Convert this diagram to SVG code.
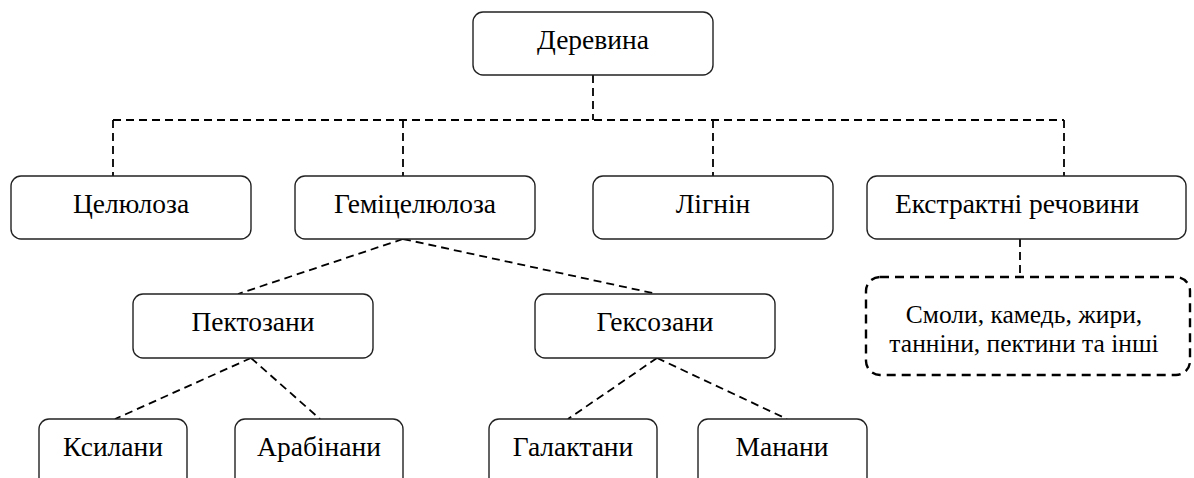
<svg xmlns="http://www.w3.org/2000/svg" width="1194" height="478" viewBox="0 0 1194 478">
<style>
.box{fill:#fff;stroke:#222;stroke-width:1.4}
.dbox{fill:#fff;stroke:#000;stroke-width:2.4;stroke-dasharray:9 6}
.c{fill:none;stroke:#000;stroke-width:1.8;stroke-dasharray:8 5}
.t{font-family:'Liberation Serif','Times New Roman',serif;font-size:27.5px;fill:#000;text-anchor:middle}
.s{font-size:25.5px}
</style>
<rect width="1194" height="478" fill="#fff"/>
<g id="connectors">
<path class="c" d="M593,75 V120"/>
<path class="c" d="M113,120 H1064"/>
<path class="c" d="M113,120 V176"/>
<path class="c" d="M403,120 V176"/>
<path class="c" d="M713,120 V176"/>
<path class="c" d="M1064,120 V176"/>
<path class="c" d="M403,239 L238,294"/>
<path class="c" d="M403,239 L657,294"/>
<path class="c" d="M251,358 L115,419"/>
<path class="c" d="M251,358 L320,419"/>
<path class="c" d="M657,358 L568,419"/>
<path class="c" d="M657,358 L787,419"/>
<path class="c" d="M1020,239 V277"/>
</g>
<g id="derevyna"><rect class="box" x="473" y="12" width="240" height="63" rx="10"/><text class="t" x="593" y="49">Деревина</text></g>
<g id="tseliuloza"><rect class="box" x="11" y="176" width="240" height="63" rx="10"/><text class="t" x="131" y="213">Целюлоза</text></g>
<g id="hemitseliuloza"><rect class="box" x="295" y="176" width="240" height="63" rx="10"/><text class="t" x="415" y="213">Геміцелюлоза</text></g>
<g id="lihnin"><rect class="box" x="593" y="176" width="240" height="63" rx="10"/><text class="t" x="713" y="213">Лігнін</text></g>
<g id="ekstraktni"><rect class="box" x="867" y="176" width="319" height="63" rx="10"/><text class="t" x="1017" y="213">Екстрактні речовини</text></g>
<g id="inshi"><rect class="dbox" x="866" y="277" width="324" height="98" rx="14"/><text class="t s" x="1024" y="323">Смоли, камедь, жири,</text><text class="t s" x="1024" y="352">танніни, пектини та інші</text></g>
<g id="pektozany"><rect class="box" x="133" y="294" width="240" height="64" rx="10"/><text class="t" x="253" y="331">Пектозани</text></g>
<g id="heksozany"><rect class="box" x="535" y="294" width="240" height="64" rx="10"/><text class="t" x="655" y="331">Гексозани</text></g>
<g id="ksylany"><rect class="box" x="39" y="419" width="148" height="75" rx="10"/><text class="t" x="113" y="456">Ксилани</text></g>
<g id="arabinany"><rect class="box" x="235" y="419" width="168" height="75" rx="10"/><text class="t" x="319" y="456">Арабінани</text></g>
<g id="halaktany"><rect class="box" x="489" y="419" width="168" height="75" rx="10"/><text class="t" x="573" y="456">Галактани</text></g>
<g id="manany"><rect class="box" x="698" y="419" width="169" height="75" rx="10"/><text class="t" x="782" y="456">Манани</text></g>
</svg>
